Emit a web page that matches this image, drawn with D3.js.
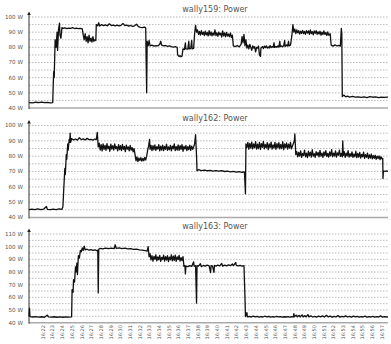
<!DOCTYPE html>
<html lang="en">
<head>
<meta charset="UTF-8">
<title>wally power</title>
<script src="https://cdn.jsdelivr.net/npm/d3@7"></script>
<style>
    body { margin: 0; background: #fff; }
    text { font-family: "DejaVu Sans", sans-serif; }
</style>
</head>
<body>
<script>
    // x tick labels (one per minute)
    const tickLabels = ['16:22', '16:23', '16:24', '16:25', '16:26', '16:27', '16:28', '16:29', '16:30',
        '16:31', '16:32', '16:33', '16:34', '16:35', '16:36', '16:37', '16:38', '16:39', '16:40',
        '16:41', '16:42', '16:43', '16:44', '16:45', '16:46', '16:47', '16:48', '16:49', '16:50',
        '16:51', '16:52', '16:53', '16:54', '16:55', '16:56', '16:57'];

    const titles = ['wally159: Power', 'wally162: Power', 'wally163: Power'];
    const yMax = [100, 100, 110];
    const yMin = 40;

    // [minute after 16:00, watts]
    const wally159 = [[20.55,43.6],[20.95,43.4],[21.25,43.8],[21.55,43.5],[21.85,43.9],[22.15,43.5],[22.45,43.7],[22.75,43.4],[23.0,43.6],
        [23.05,55],[23.1,64],[23.15,60],[23.25,85],[23.35,80],[23.45,90],[23.5,78],[23.6,92],[23.7,96],[23.75,88],[23.85,86],[23.95,93],[24.05,92.5],
        [24.25,92.8],[24.45,92.3],[24.65,92.6],[24.85,92.5],[25.05,93.0],[25.25,92.4],[25.45,92.7],[25.65,92.3],[25.85,92.5],[26.05,92.2],
        [26.15,88],[26.25,85],[26.35,89],[26.45,84],[26.55,87],[26.65,83],[26.75,88],[26.85,84],[26.95,86],[27.05,83.5],[27.15,87],[27.25,84],[27.35,85],[27.45,84.5],
        [27.5,95],[27.65,94.2],[27.75,96.2],[27.85,94],[28.05,95],[28.25,94.3],[28.45,94.8],[28.65,94.2],[28.85,95.5],[29.05,94.4],[29.25,94.6],[29.45,94.2],[29.65,94.7],[29.85,94.1],[30.05,94.5],[30.25,95.8],[30.45,94.3],[30.65,94.6],[30.85,94.0],[31.05,94.4],[31.25,93.8],[31.45,94.2],[31.65,95.2],[31.85,93.6],[32.05,93.2],[32.25,93.0],[32.45,93.4],[32.6,92.8],
        [32.65,70],[32.7,50],[32.75,84],[32.85,81],[32.95,84.5],[33.05,81],[33.25,81.5],[33.45,80.8],[33.65,81.2],[33.85,80.9],[34.05,82],[34.15,84],[34.25,81.5],[34.45,81],[34.65,81.2],[34.85,80.6],[35.05,80.9],[35.25,80.5],[35.45,80.2],[35.65,80.4],[35.85,80],
        [35.9,75],[36.05,74],[36.15,74.5],[36.25,73.8],[36.35,74.2],
        [36.45,79],[36.6,78.6],[36.7,83],[36.75,79],[36.95,78.8],[37.05,84],[37.1,79],[37.25,79.2],[37.35,84.5],[37.4,79],[37.55,79.3],
        [37.65,89],[37.75,94.5],[37.85,90],[37.95,91.5],[38.05,88.5],[38.15,90.5],[38.25,88],[38.35,91],[38.45,88.5],[38.55,90],[38.65,87.8],[38.75,90.6],[38.85,88.2],[38.95,89.8],[39.05,87.5],[39.15,91],[39.25,88],[39.35,90.2],[39.45,87.6],[39.55,89.5],[39.65,88],[39.75,91.5],[39.85,87.8],[39.95,89.6],[40.05,87.2],[40.15,90],[40.25,88.2],[40.35,89.4],[40.45,86.8],[40.55,90.8],[40.65,87.5],[40.75,89.5],[40.85,87],[40.95,89.8],[41.05,87.4],[41.15,88.8],[41.25,87],[41.35,89.5],[41.45,86.5],[41.55,88],
        [41.65,81],[41.85,80.5],[42.05,81.2],[42.25,80.3],
        [42.45,82],[42.55,87],[42.65,83],[42.75,88.5],[42.85,81],[42.95,85],[43.05,79.5],
        [43.15,81.5],[43.25,79],[43.35,82],[43.45,80],[43.55,78],[43.65,81],[43.75,79.5],[43.85,80.5],[43.95,77],[44.05,80],[44.15,79.5],[44.25,80.8],[44.35,75],[44.45,74],[44.5,79.5],[44.65,80.5],[44.75,79.2],[44.85,80.8],[44.95,79.8],[45.05,81],[45.15,79.5],[45.25,80.2],[45.35,79.6],[45.45,81.2],[45.55,79.8],[45.65,80.5],[45.75,80],[45.85,83],[45.9,80],[46.05,80.6],[46.15,80],[46.25,81],[46.35,80.2],[46.45,84],[46.5,80.5],[46.65,81],[46.75,80.3],[46.85,81.2],[46.95,84.5],[47.0,80.6],[47.15,81.5],[47.25,80.8],[47.35,84],[47.4,81],[47.55,81.5],
        [47.7,88],[47.8,95],[47.9,90],[48.0,92],[48.1,89],[48.2,91.5],[48.3,89.5],[48.4,91],[48.5,88.8],[48.6,90.6],[48.7,89.2],[48.8,91.2],[48.9,89],[49.0,90.5],[49.1,88.6],[49.2,91],[49.3,89.4],[49.4,90.8],[49.5,88.5],[49.6,91.5],[49.7,89],[49.8,90.4],[49.9,88.2],[50.0,90.8],[50.1,89.2],[50.2,91],[50.3,88.6],[50.4,90.2],[50.5,88.8],[50.6,90.6],[50.7,88],[50.8,90],[50.9,88.4],[51.0,90.8],[51.1,88.5],[51.2,89.8],[51.3,87.8],[51.4,90.2],[51.5,88],[51.65,89],
        [51.75,81.5],[51.95,80.8],[52.15,81.6],[52.35,80.9],[52.55,81.3],[52.7,80.8],
        [52.8,92.5],[52.85,89],[52.9,47.5],[53.05,48.5],[53.25,47.4],[53.45,47.8],[53.65,47.2],[53.95,47.6],[54.25,47.1],[54.55,47.4],[54.85,47],[55.15,47.3],[55.45,46.9],[55.75,47.5],[56.05,47.1],[56.35,47.3],[56.65,46.9],[56.95,47.2],[57.25,47],[57.55,47.2],[57.62,47.1]];

    const wally162 = [[20.55,45.2],[20.85,45.5],[21.15,45.1],[21.45,45.6],[21.75,45.2],[22.05,45.4],[22.35,47.2],[22.45,45.3],[22.75,45.1],[23.05,45.5],[23.35,45.2],[23.65,45.6],[23.95,45.3],
        [24.05,47],[24.15,60],[24.25,72],[24.3,68],[24.4,81],[24.45,78],[24.55,88],[24.6,84],[24.7,91],[24.75,89],[24.8,95],[24.85,89],
        [24.95,91.5],[25.15,90.6],[25.35,91.2],[25.55,90.5],[25.75,92],[25.95,90.8],[26.15,91.3],[26.35,90.6],[26.55,91.6],[26.75,90.8],[26.95,91],[27.15,90.5],[27.35,91.2],[27.5,90.8],
        [27.6,95.5],[27.7,86],[27.8,88.5],[27.9,84],[28.0,87.5],[28.1,83.5],[28.2,88],[28.3,84.5],[28.4,87],[28.5,83.8],[28.6,88.2],[28.7,84.8],[28.8,86.5],[28.9,83.2],[29.0,87.8],[29.1,84.6],[29.2,86.8],[29.3,84],[29.4,88],[29.5,85],[29.6,86.2],[29.7,83.5],[29.8,87.5],[29.9,84.2],[30.0,86.8],[30.1,83.6],[30.2,87.6],[30.3,84.4],[30.4,86.4],[30.5,83],[30.6,87.2],[30.7,84.6],[30.8,86],[30.9,83.4],[31.0,87],[31.1,84],[31.2,85.6],[31.3,82.8],[31.4,85],[31.5,81],
        [31.6,77],[31.7,79.5],[31.8,76.5],[31.9,78.8],[32.0,77.2],[32.1,79],[32.2,76.8],[32.3,78.5],[32.4,77],[32.5,79.2],[32.6,77.5],[32.7,80],
        [32.8,84],[32.9,86.5],[33.0,91],[33.05,84.5],[33.15,87],[33.25,83.6],[33.35,86.8],[33.45,84.2],[33.55,87.4],[33.65,83.8],[33.75,86.2],[33.85,84.6],[33.95,87.6],[34.05,83.4],[34.15,86.6],[34.25,84],[34.35,87.2],[34.45,83.6],[34.55,86.4],[34.65,84.4],[34.75,87.8],[34.85,83.8],[34.95,86],[35.05,84.2],[35.15,87],[35.25,83.4],[35.35,86.6],[35.45,84.8],[35.55,88],[35.65,83.6],[35.75,86.2],[35.85,84],[35.95,87.4],[36.05,83.8],[36.15,86.8],[36.25,84.4],[36.35,87.6],[36.45,83.2],[36.55,86.4],[36.65,84.6],[36.75,87],[36.85,83.6],[36.95,86.2],[37.05,84.2],[37.15,87.2],[37.25,83.8],[37.35,86.6],[37.45,84.4],[37.55,86],
        [37.65,88],[37.75,94],[37.85,80],[37.9,70.5],[38.05,71.2],[38.35,70.6],[38.65,70.9],[38.95,70.5],[39.25,70.8],[39.55,70.3],[39.85,70.6],[40.15,70.2],[40.45,70.5],[40.75,70],[41.05,70.3],[41.35,69.8],[41.65,70.1],[41.95,69.6],[42.25,69.9],[42.55,69.5],[42.8,69.7],
        [42.9,55.5],[42.95,88],[43.05,85.5],[43.15,89],[43.25,84.5],[43.35,88.4],[43.45,85.2],[43.55,89.2],[43.65,84.8],[43.75,88],[43.85,85.6],[43.95,89.4],[44.05,84.6],[44.15,87.8],[44.25,85],[44.35,89],[44.45,84.4],[44.55,88.2],[44.65,85.8],[44.75,89.6],[44.85,84.8],[44.95,87.6],[45.05,85.4],[45.15,88.8],[45.25,84.2],[45.35,88],[45.45,85.6],[45.55,89.2],[45.65,84.6],[45.75,87.4],[45.85,85.2],[45.95,89],[46.05,84.4],[46.15,88.2],[46.25,85.4],[46.35,88.8],[46.45,84.8],[46.55,87.6],[46.65,85],[46.75,89.4],[46.85,84.2],[46.95,88],[47.05,85.6],[47.15,88.6],[47.25,84.6],[47.35,87.8],[47.45,85.2],[47.55,89],[47.65,84.8],[47.8,87.5],
        [47.95,90],[48.0,94.5],[48.1,81],[48.2,83],[48.3,79.6],[48.4,82.4],[48.5,80],[48.6,83.4],[48.7,79.2],[48.8,81.8],[48.9,80.4],[49.0,84],[49.1,79.6],[49.2,82],[49.3,79],[49.4,83.2],[49.5,80.2],[49.6,82.6],[49.7,79.4],[49.8,84.2],[49.9,80],[50.0,81.6],[50.1,79.2],[50.2,83],[50.3,80.6],[50.4,82.4],[50.5,79.6],[50.6,83.8],[50.7,80],[50.8,82],[50.9,79.2],[51.0,82.8],[51.1,80.4],[51.2,83.6],[51.3,79.8],[51.4,81.8],[51.5,79.4],[51.6,82.8],[51.7,80.2],[51.8,84.2],[51.9,79.6],[52.0,82],[52.1,80],[52.2,83.4],[52.3,79.4],[52.4,82.2],[52.5,80.6],[52.6,84],[52.7,79.8],[52.8,81.8],[52.9,79.6],[52.95,90],[53.0,80.4],[53.1,83],[53.2,79.2],[53.3,82],[53.4,80],[53.5,83.6],[53.6,79.4],[53.7,81.6],[53.8,79.8],[53.9,82.8],[54.0,79.2],[54.1,81.4],[54.2,79.6],[54.3,83.2],[54.4,79],[54.5,81.8],[54.6,79.4],[54.7,82.4],[54.8,78.8],[54.9,81.2],[55.0,79.6],[55.1,82.6],[55.2,78.6],[55.3,81],[55.4,79.2],[55.5,82],[55.6,78.4],[55.7,80.8],[55.8,78.8],[55.9,81.4],[56.0,78.2],[56.1,80.4],[56.2,78.6],[56.3,80.6],[56.4,78],[56.5,80],[56.6,78.4],[56.7,80.2],[56.8,77.8],[56.9,79.6],[57.0,78.2],[57.08,78.6],
        [57.1,65.5],[57.15,70.5],[57.3,70],[57.45,70.4],[57.62,70.1]];

    const wally163 = [[20.55,45],[20.6,51.5],[20.65,44.8],[20.95,44.5],[21.25,44.8],[21.55,44.4],[21.85,44.7],[22.15,44.3],[22.45,46],[22.55,44.6],[22.85,44.4],[23.15,44.7],[23.45,44.3],[23.75,44.6],[24.05,44.3],[24.35,44.6],[24.65,44.4],[24.95,44.6],
        [25.0,66],[25.1,64],[25.15,74],[25.25,72],[25.35,84],[25.4,80],[25.5,87],[25.55,78],[25.65,93],[25.75,91],[25.85,97],[25.95,96],[26.05,99],[26.15,97],[26.25,100.5],[26.35,97.5],
        [26.55,98],[26.75,97.2],[26.95,97.6],[27.15,97],[27.35,97.4],[27.55,96.8],[27.65,97.2],
        [27.7,63.5],[27.75,98],[27.9,98.6],[28.15,98.2],[28.45,98.8],[28.75,98.4],[29.05,98.9],[29.35,98.5],[29.45,101.5],[29.55,98.7],[29.85,99],[30.15,98.4],[30.45,98.8],[30.75,98.2],[31.05,98.4],[31.35,97.8],[31.65,98],[31.95,97.4],[32.25,97.2],[32.55,96.8],[32.75,96.5],
        [32.85,100],[32.95,92],[33.05,94.5],[33.15,89.5],[33.25,93],[33.35,88.5],[33.45,92.4],[33.55,90],[33.65,93.6],[33.75,88.8],[33.85,92],[33.95,89.6],[34.05,93.2],[34.15,88.4],[34.25,91.6],[34.35,89.8],[34.45,93.4],[34.55,88.6],[34.65,92.2],[34.75,89.4],[34.85,93],[34.95,88.2],[35.05,91.8],[35.15,89.6],[35.25,93.6],[35.35,88.8],[35.45,92.6],[35.55,89.2],[35.65,93.4],[35.75,88.4],[35.85,92],[35.95,89.8],[36.05,93.2],[36.15,88.6],[36.25,91.4],[36.35,89],[36.45,92.2],
        [36.55,84.5],[36.65,85],[36.7,78.5],[36.75,84.6],[36.95,84.2],[37.15,85],[37.35,84.4],[37.55,88],[37.6,84.6],[37.75,85],[37.85,55.5],[37.9,85],[38.05,84.6],[38.25,86.5],[38.35,84.2],[38.55,85.2],[38.75,84.6],[38.95,85.4],[39.15,84.8],[39.3,79.5],[39.35,85],[39.5,84.6],[39.65,79.8],[39.7,85.2],[39.85,84.6],[40.05,85.4],[40.25,84.8],[40.45,86.8],[40.55,84.6],[40.75,85.4],[40.95,84.8],[41.15,85.6],[41.35,85],[41.55,86.4],[41.65,85],[41.9,87.5],[41.95,85.2],[42.15,84.8],[42.35,85.2],[42.55,84.6],[42.75,85],
        [42.85,60],[42.9,44.8],[43.05,48],[43.1,44.6],[43.3,44.9],[43.5,44.5],[43.7,45.2],[43.9,44.6],[44.1,45],[44.3,44.4],[44.5,44.8],[44.7,44.5],[44.9,45.1],[45.1,44.6],[45.3,44.9],[45.5,44.4],[45.7,44.8],[45.9,44.5],[46.1,45],[46.3,44.6],[46.5,44.8],[46.7,44.4],[46.9,44.7],[47.1,44.5],[47.3,44.8],[47.5,44.4],[47.7,44.7],[47.85,44.6],[47.9,47.2],[47.95,44.6],[48.15,46],[48.25,44.6],[48.45,45.8],[48.55,44.5],[48.75,46.2],[48.85,44.6],[49.05,45.6],[49.15,44.5],[49.35,46.4],[49.45,44.6],[49.65,45.4],[49.85,44.5],[50.05,45],[50.25,44.4],[50.45,45.2],[50.65,44.6],[50.85,45.4],[51.05,44.5],[51.25,45.8],[51.45,44.6],[51.65,45.2],[51.85,44.4],[52.05,45],[52.25,44.5],[52.45,45.6],[52.65,44.4],[52.85,45],[53.05,44.6],[53.25,45.4],[53.45,44.5],[53.65,45],[53.85,44.4],[54.05,45.2],[54.25,44.6],[54.45,45],[54.65,44.4],[54.85,44.8],[55.05,44.5],[55.25,45.2],[55.45,44.4],[55.65,44.8],[55.85,44.5],[56.05,45],[56.25,44.4],[56.45,44.8],[56.65,44.5],[56.85,45.4],[57.05,44.4],[57.25,44.8],[57.45,44.5],[57.62,44.6]];

    const series = [wally159, wally162, wally163];

    // layout
    const width = 391, height = 344;
    const left = 29, right = 388;
    const tops = [17, 125.5, 234];
    const bottoms = [108, 217.5, 322.7];

    const svg = d3.select('body').append('svg')
        .attr('width', width)
        .attr('height', height);

    const x = d3.scaleLinear()
        .domain([20.55, 57.62])
        .range([left, right]);

    series.forEach(function (data, p) {
        const y = d3.scaleLinear()
            .domain([yMin, yMax[p]])
            .range([bottoms[p], tops[p]]);
        const g = svg.append('g');

        // dotted grid every 5 W
        const grid = d3.range(yMin + 5, yMax[p] + 0.1, 5);
        g.selectAll('line.grid')
            .data(grid)
            .enter()
            .append('line')
            .attr('x1', left)
            .attr('x2', right)
            .attr('y1', d => y(d))
            .attr('y2', d => y(d))
            .attr('stroke', '#aaa')
            .attr('stroke-width', 0.8)
            .attr('stroke-dasharray', '1.5,1.5');

        // base line
        g.append('line')
            .attr('x1', left).attr('x2', right)
            .attr('y1', y(yMin)).attr('y2', y(yMin))
            .attr('stroke', '#aaa')
            .attr('stroke-width', 1.4);

        // y labels
        g.selectAll('text.ylab')
            .data(d3.range(yMin, yMax[p] + 0.1, 10))
            .enter()
            .append('text')
            .attr('x', 23)
            .attr('y', d => y(d))
            .attr('dy', '0.35em')
            .attr('text-anchor', 'end')
            .attr('font-size', 5.6)
            .attr('fill', '#555')
            .text(d => d + ' W');

        // y axis with arrow
        g.append('line')
            .attr('x1', left).attr('x2', left)
            .attr('y1', tops[p] - 4).attr('y2', bottoms[p] + 1)
            .attr('stroke', '#333')
            .attr('stroke-width', 1);
        g.append('path')
            .attr('d', `M${left - 1.8},${tops[p] - 2} L${left},${tops[p] - 5.5} L${left + 1.8},${tops[p] - 2} Z`)
            .attr('fill', '#222');

        // title
        g.append('text')
            .attr('x', 215)
            .attr('y', tops[p] - 5)
            .attr('text-anchor', 'middle')
            .attr('font-size', 8)
            .attr('fill', '#555')
            .text(titles[p]);

        // power line
        const line = d3.line()
            .x(d => x(d[0]))
            .y(d => y(d[1]));
        g.append('path')
            .datum(data)
            .attr('d', line)
            .attr('fill', 'none')
            .attr('stroke', '#111')
            .attr('stroke-width', 1.3)
            .attr('stroke-linejoin', 'round');
    });

    // time labels under last panel
    svg.selectAll('text.xlab')
        .data(tickLabels)
        .enter()
        .append('text')
        .attr('transform', d => `translate(${x(+d.split(':')[1])},325) rotate(-90)`)
        .attr('dy', '0.35em')
        .attr('text-anchor', 'end')
        .attr('font-size', 5)
        .attr('fill', '#555')
        .text(d => d);
</script>
</body>
</html>
